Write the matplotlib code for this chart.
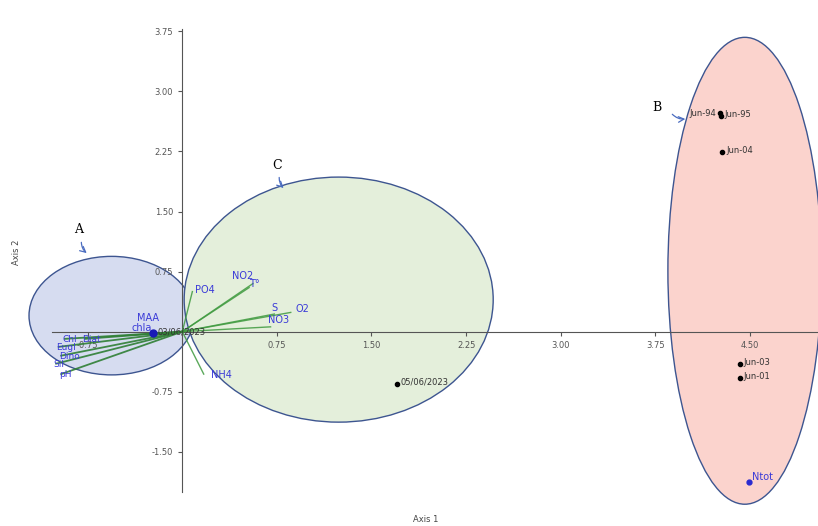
import numpy as np
import matplotlib
matplotlib.use("Agg")
import matplotlib.pyplot as plt
from matplotlib.patches import Ellipse

# site scores (black dots)
site_labels = ["Jun-94", "Jun-95", "Jun-04", "Jun-03", "Jun-01", "05/06/2023", "03/06/2023"]
site_x = [4.26, 4.27, 4.28, 4.42, 4.42, 1.70, -0.23]
site_y = [2.73, 2.69, 2.24, -0.41, -0.58, -0.65, -0.02]

# environmental / biological vectors
vec_names = ["PO4", "NO2", "T°", "S", "O2", "NO3", "NH4",
             "Chl", "Diat", "Eugl", "Dino", "Sil", "pH"]
vec_x = [0.08, 0.56, 0.53, 0.73, 0.86, 0.70, 0.17,
         -0.93, -0.77, -0.98, -0.96, -1.00, -0.96]
vec_y = [0.50, 0.60, 0.55, 0.22, 0.24, 0.06, -0.53,
         -0.09, -0.09, -0.19, -0.30, -0.40, -0.53]

# supplementary variables shown as points
sup_names = ["MAA", "chla", "Ntot"]
sup_x = [-0.23, -0.23, 4.49]
sup_y = [-0.02, -0.02, -1.88]

# groups: centre x, centre y, width, height
group_names = ["A", "B", "C"]
group_cx = [-0.56, 4.46, 1.24]
group_cy = [0.20, 0.76, 0.40]
group_w = [1.31, 1.22, 2.45]
group_h = [1.48, 5.83, 3.06]
group_fill = ["#d6dcf0", "#fbd3cd", "#e4efdb"]

xticks = [-0.75, 0.75, 1.50, 2.25, 3.00, 3.75, 4.50]
yticks = [-1.50, -0.75, 0.75, 1.50, 2.25, 3.00, 3.75]

fig = plt.figure(figsize=(8.18, 5.26), dpi=100)
ax = fig.add_axes([0.064, 0.065, 0.936, 0.88])
ax.set_xlim(-1.03, 5.04)
ax.set_ylim(-2.0, 3.78)

for name, cx, cy, w, h, fc in zip(group_names, group_cx, group_cy, group_w, group_h, group_fill):
    ax.add_patch(Ellipse((cx, cy), w, h, facecolor=fc, edgecolor="#3d5590",
                         lw=1.0, zorder=1, clip_on=False))

# group letters with little arrows
arrow_kw = dict(arrowstyle="->", color="#4a6cc0", lw=0.9, connectionstyle="arc3,rad=0.3")
ax.annotate("", xy=(-0.74, 0.96), xytext=(-0.8, 1.15), arrowprops=arrow_kw)
ax.text(-0.82, 1.28, "A", fontsize=9, family="DejaVu Serif", ha="center", va="center")
ax.annotate("", xy=(4.01, 2.66), xytext=(3.87, 2.74), arrowprops=arrow_kw)
ax.text(3.76, 2.80, "B", fontsize=9, family="DejaVu Serif", ha="center", va="center")
ax.annotate("", xy=(0.82, 1.77), xytext=(0.77, 1.96), arrowprops=arrow_kw)
ax.text(0.75, 2.08, "C", fontsize=9, family="DejaVu Serif", ha="center", va="center")

# label placement for each vector tip: (dx, dy, ha)
vec_offsets = {
    "PO4": (0.02, 0.02, "left"), "NO2": (0.0, 0.10, "right"), "T°": (0.0, 0.04, "left"),
    "S": (-0.02, 0.07, "left"), "O2": (0.04, 0.04, "left"), "NO3": (-0.02, 0.08, "left"),
    "NH4": (0.06, -0.01, "left"),
}

for name, vx, vy in zip(vec_names, vec_x, vec_y):
    if vx < 0:
        ax.plot([0, vx], [0, vy], color="#2f7f34", lw=1.3, alpha=0.9, zorder=3)
        ax.text(vx - 0.02, vy - 0.01, name, fontsize=6.5, color="#3a3ad8",
                ha="left", va="center", zorder=5)
    else:
        ax.plot([0, vx], [0, vy], color="#3f9a3f", lw=1.0, alpha=0.85, zorder=3)
        dx, dy, ha = vec_offsets[name]
        ax.text(vx + dx, vy + dy, name, fontsize=7, color="#3a3ad8",
                ha=ha, va="center", zorder=5)

# site points
for name, sx, sy in zip(site_labels, site_x, site_y):
    ax.plot(sx, sy, "o", color="black", ms=3, zorder=6)
    if name == "Jun-94":
        ax.text(sx - 0.03, sy, name, fontsize=6, color="#333333",
                ha="right", va="center", zorder=6)
    else:
        ax.text(sx + 0.03, sy + 0.02, name, fontsize=6, color="#333333",
                ha="left", va="center", zorder=6)

# supplementary points
ax.plot(sup_x[0], sup_y[0], "o", color="#1a1ab8", ms=5, zorder=7)
ax.text(-0.36, sup_y[0] + 0.19, sup_names[0], fontsize=7, color="#3a3ad8", va="center", zorder=7)
ax.text(-0.40, sup_y[1] + 0.06, sup_names[1], fontsize=7, color="#3a3ad8", va="center", zorder=7)
ax.plot(sup_x[2], sup_y[2], "o", color="#2a2ad0", ms=3.5, zorder=7)
ax.text(sup_x[2] + 0.03, sup_y[2] + 0.07, sup_names[2], fontsize=7, color="#3a3ad8", va="center", zorder=7)

# cross-shaped axes through the origin
for side in ["top", "right"]:
    ax.spines[side].set_visible(False)
ax.spines["left"].set_position(("data", 0))
ax.spines["bottom"].set_position(("data", 0))
ax.spines["left"].set_color("#555555")
ax.spines["bottom"].set_color("#555555")
ax.set_xticks(xticks)
ax.set_yticks(yticks)
ax.set_xticklabels([f"{t:.2f}" for t in xticks])
ax.set_yticklabels([f"{t:.2f}" for t in yticks])
ax.tick_params(labelsize=6, colors="#555555", length=3, width=0.8)
ax.patch.set_alpha(0)

fig.text(0.015, 0.52, "Axis 2", rotation=90, fontsize=6, color="#444444", va="center")
fig.text(0.52, 0.008, "Axis 1", fontsize=6, color="#444444", ha="center")

fig.savefig("out.png", dpi=100)
